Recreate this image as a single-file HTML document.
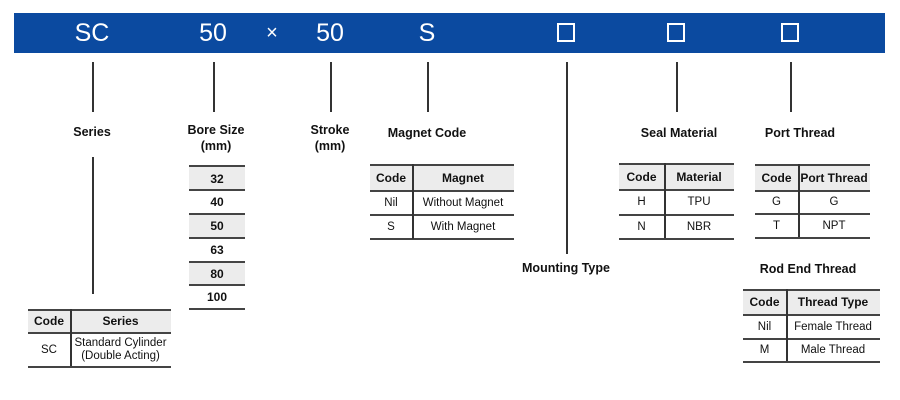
<!DOCTYPE html>
<html><head><meta charset="utf-8"><style>
*{margin:0;padding:0;box-sizing:border-box}
body{width:900px;height:400px;background:#fff;position:relative;overflow:hidden;font-family:"Liberation Sans",Arial,sans-serif;color:#111}
.bar{position:absolute;left:14px;top:13px;width:871px;height:40px;background:#0b4aa0}
.bt{position:absolute;top:13px;height:40px;line-height:40px;color:#fff;font-size:25px;width:60px;margin-left:-30px;text-align:center}
.sq{position:absolute;top:23px;width:18px;height:19px;border:2px solid #fff}
.v{position:absolute;width:1.5px;background:#333}
.lb{position:absolute;font-weight:bold;font-size:12.5px;text-align:center;width:140px;margin-left:-70px;line-height:16px}
.c{position:absolute;font-size:11.5px;text-align:center;display:flex;align-items:center;justify-content:center;line-height:13px;padding-top:2px}
.h{background:#ececec;font-weight:bold;font-size:12px}
.hl{position:absolute;height:1.5px;background:#444}
</style></head><body>
<div class="bar"></div>
<div class="bt" style="left:92px">SC</div>
<div class="bt" style="left:213px">50</div>
<div class="bt" style="left:272px;font-size:20px">×</div>
<div class="bt" style="left:330px">50</div>
<div class="bt" style="left:427px">S</div>
<div class="sq" style="left:557px"></div>
<div class="sq" style="left:667px"></div>
<div class="sq" style="left:781px"></div>

<div class="v" style="left:92px;top:62px;height:50px"></div>
<div class="v" style="left:213px;top:62px;height:50px"></div>
<div class="v" style="left:330px;top:62px;height:50px"></div>
<div class="v" style="left:427px;top:62px;height:50px"></div>
<div class="v" style="left:566px;top:62px;height:192px"></div>
<div class="v" style="left:676px;top:62px;height:50px"></div>
<div class="v" style="left:790px;top:62px;height:50px"></div>
<div class="v" style="left:92px;top:157px;height:137px"></div>

<div class="lb" style="left:92px;top:124px">Series</div>
<div class="lb" style="left:216px;top:122px">Bore Size<br>(mm)</div>
<div class="lb" style="left:330px;top:122px">Stroke<br>(mm)</div>
<div class="lb" style="left:427px;top:125px">Magnet Code</div>
<div class="lb" style="left:566px;top:260px">Mounting Type</div>
<div class="lb" style="left:679px;top:125px">Seal Material</div>
<div class="lb" style="left:800px;top:125px">Port Thread</div>
<div class="lb" style="left:808px;top:261px">Rod End Thread</div>

<!-- bore -->
<div class="c h" style="left:189px;top:166px;width:56px;height:24px">32</div>
<div class="c" style="left:189px;top:190px;width:56px;height:23px;font-weight:bold;font-size:12px">40</div>
<div class="c h" style="left:189px;top:213px;width:56px;height:24px">50</div>
<div class="c" style="left:189px;top:237px;width:56px;height:24px;font-weight:bold;font-size:12px">63</div>
<div class="c h" style="left:189px;top:261px;width:56px;height:24px">80</div>
<div class="c" style="left:189px;top:285px;width:56px;height:23px;font-weight:bold;font-size:12px">100</div>
<div class="hl" style="left:189px;width:56px;top:165px"></div>
<div class="hl" style="left:189px;width:56px;top:189px"></div>
<div class="hl" style="left:189px;width:56px;top:213px"></div>
<div class="hl" style="left:189px;width:56px;top:237px"></div>
<div class="hl" style="left:189px;width:56px;top:261px"></div>
<div class="hl" style="left:189px;width:56px;top:284px"></div>
<div class="hl" style="left:189px;width:56px;top:308px"></div>

<!-- magnet -->
<div class="c h" style="left:370px;top:164px;width:42px;height:26px">Code</div>
<div class="c h" style="left:412px;top:164px;width:102px;height:26px">Magnet</div>
<div class="c" style="left:370px;top:190px;width:42px;height:24px">Nil</div>
<div class="c" style="left:412px;top:190px;width:102px;height:24px">Without Magnet</div>
<div class="c" style="left:370px;top:214px;width:42px;height:25px">S</div>
<div class="c" style="left:412px;top:214px;width:102px;height:25px">With Magnet</div>
<div class="hl" style="left:370px;width:144px;top:164px"></div>
<div class="hl" style="left:370px;width:144px;top:190px"></div>
<div class="hl" style="left:370px;width:144px;top:214px"></div>
<div class="hl" style="left:370px;width:144px;top:238px"></div>
<div class="v" style="left:412px;top:164px;height:75px"></div>

<!-- seal -->
<div class="c h" style="left:619px;top:163px;width:45px;height:26px">Code</div>
<div class="c h" style="left:664px;top:163px;width:70px;height:26px">Material</div>
<div class="c" style="left:619px;top:189px;width:45px;height:25px">H</div>
<div class="c" style="left:664px;top:189px;width:70px;height:25px">TPU</div>
<div class="c" style="left:619px;top:214px;width:45px;height:24px">N</div>
<div class="c" style="left:664px;top:214px;width:70px;height:24px">NBR</div>
<div class="hl" style="left:619px;width:115px;top:163px"></div>
<div class="hl" style="left:619px;width:115px;top:189px"></div>
<div class="hl" style="left:619px;width:115px;top:214px"></div>
<div class="hl" style="left:619px;width:115px;top:238px"></div>
<div class="v" style="left:664px;top:163px;height:75px"></div>

<!-- port -->
<div class="c h" style="left:755px;top:164px;width:43px;height:26px">Code</div>
<div class="c h" style="left:798px;top:164px;width:72px;height:26px">Port Thread</div>
<div class="c" style="left:755px;top:190px;width:43px;height:23px">G</div>
<div class="c" style="left:798px;top:190px;width:72px;height:23px">G</div>
<div class="c" style="left:755px;top:213px;width:43px;height:24px">T</div>
<div class="c" style="left:798px;top:213px;width:72px;height:24px">NPT</div>
<div class="hl" style="left:755px;width:115px;top:164px"></div>
<div class="hl" style="left:755px;width:115px;top:190px"></div>
<div class="hl" style="left:755px;width:115px;top:213px"></div>
<div class="hl" style="left:755px;width:115px;top:237px"></div>
<div class="v" style="left:798px;top:164px;height:73px"></div>

<!-- rod end -->
<div class="c h" style="left:743px;top:289px;width:43px;height:25px">Code</div>
<div class="c h" style="left:786px;top:289px;width:94px;height:25px">Thread Type</div>
<div class="c" style="left:743px;top:314px;width:43px;height:24px">Nil</div>
<div class="c" style="left:786px;top:314px;width:94px;height:24px">Female Thread</div>
<div class="c" style="left:743px;top:338px;width:43px;height:23px">M</div>
<div class="c" style="left:786px;top:338px;width:94px;height:23px">Male Thread</div>
<div class="hl" style="left:743px;width:137px;top:289px"></div>
<div class="hl" style="left:743px;width:137px;top:314px"></div>
<div class="hl" style="left:743px;width:137px;top:338px"></div>
<div class="hl" style="left:743px;width:137px;top:361px"></div>
<div class="v" style="left:786px;top:289px;height:72px"></div>

<!-- series -->
<div class="c h" style="left:28px;top:309px;width:42px;height:23px">Code</div>
<div class="c h" style="left:70px;top:309px;width:101px;height:23px">Series</div>
<div class="c" style="left:28px;top:332px;width:42px;height:34px">SC</div>
<div class="c" style="left:70px;top:332px;width:101px;height:34px">Standard Cylinder<br>(Double Acting)</div>
<div class="hl" style="left:28px;width:143px;top:309px"></div>
<div class="hl" style="left:28px;width:143px;top:332px"></div>
<div class="hl" style="left:28px;width:143px;top:366px"></div>
<div class="v" style="left:70px;top:309px;height:57px"></div>
</body></html>
